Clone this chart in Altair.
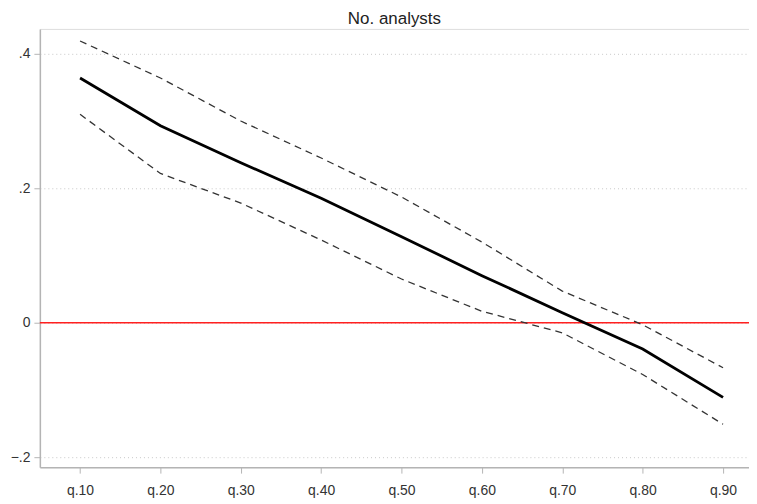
import altair as alt
import pandas as pd

quantiles = ["q.10", "q.20", "q.30", "q.40", "q.50", "q.60", "q.70", "q.80", "q.90"]
estimate = [0.364, 0.293, 0.238, 0.185, 0.128, 0.070, 0.015, -0.039, -0.111]
upper = [0.419, 0.364, 0.300, 0.245, 0.187, 0.120, 0.047, -0.003, -0.067]
lower = [0.310, 0.222, 0.178, 0.123, 0.065, 0.017, -0.015, -0.077, -0.151]

idx = list(range(1, len(quantiles) + 1))
df = pd.DataFrame({"i": idx, "q": quantiles, "est": estimate, "up": upper, "lo": lower})
long = pd.concat([
    pd.DataFrame({"i": idx, "v": upper, "s": "up"}),
    pd.DataFrame({"i": idx, "v": lower, "s": "lo"}),
])

W = 712
H = 440
xdom = [0.5, 0.5 + W / 80.7]
ydom = [-0.2148, 0.437]

font = "Liberation Sans"

xenc = alt.X("i:Q", scale=alt.Scale(domain=xdom, nice=False, zero=False),
             axis=alt.Axis(values=idx, title=None, grid=False,
                           labelExpr="'q.' + format(datum.value * 10, 'd')",
                           domainColor="#b4b4b4", tickColor="#b4b4b4", tickSize=6,
                           labelPadding=10, labelFontSize=14, labelColor="#333333",
                           labelFont=font, domainWidth=1.5))
yaxis = alt.Axis(values=[-0.2, 0, 0.2, 0.4], title=None,
                 labelExpr="datum.value == 0 ? '0' : replace(format(datum.value, '.1f'), '0.', '.')",
                 grid=True, gridDash=[1, 3], gridColor="#c8c8c8",
                 domainColor="#b4b4b4", tickColor="#b4b4b4", tickSize=6,
                 labelPadding=4, labelFontSize=14, labelColor="#333333",
                 labelFont=font, domainWidth=1.5)
yscale = alt.Scale(domain=ydom, nice=False, zero=False)

base = alt.Chart(df)

rule = alt.Chart(pd.DataFrame({"z": [0]})).mark_rule(color="#ff2020", strokeWidth=1.5).encode(
    y=alt.Y("z:Q", scale=yscale, axis=yaxis)
)

ci = alt.Chart(long).mark_line(color="#333333", strokeWidth=1.3, strokeDash=[7, 5]).encode(
    x=xenc,
    y=alt.Y("v:Q", scale=yscale, axis=yaxis),
    detail="s:N",
)

main = base.mark_line(color="#000000", strokeWidth=2.8).encode(
    x=xenc,
    y=alt.Y("est:Q", scale=yscale, axis=yaxis),
)

chart = alt.layer(rule, ci, main).properties(
    width=W, height=H,
    title=alt.TitleParams("No. analysts", font=font, fontSize=17, fontWeight="normal",
                          color="#222222", offset=1, anchor="middle"),
    autosize=alt.AutoSizeParams(type="none"),
    padding={"left": 32, "top": 20, "right": 0, "bottom": 36},
).configure_view(stroke=None).configure(background="white")

chart.save("out.html", embed_options={"renderer": "svg", "actions": False})
